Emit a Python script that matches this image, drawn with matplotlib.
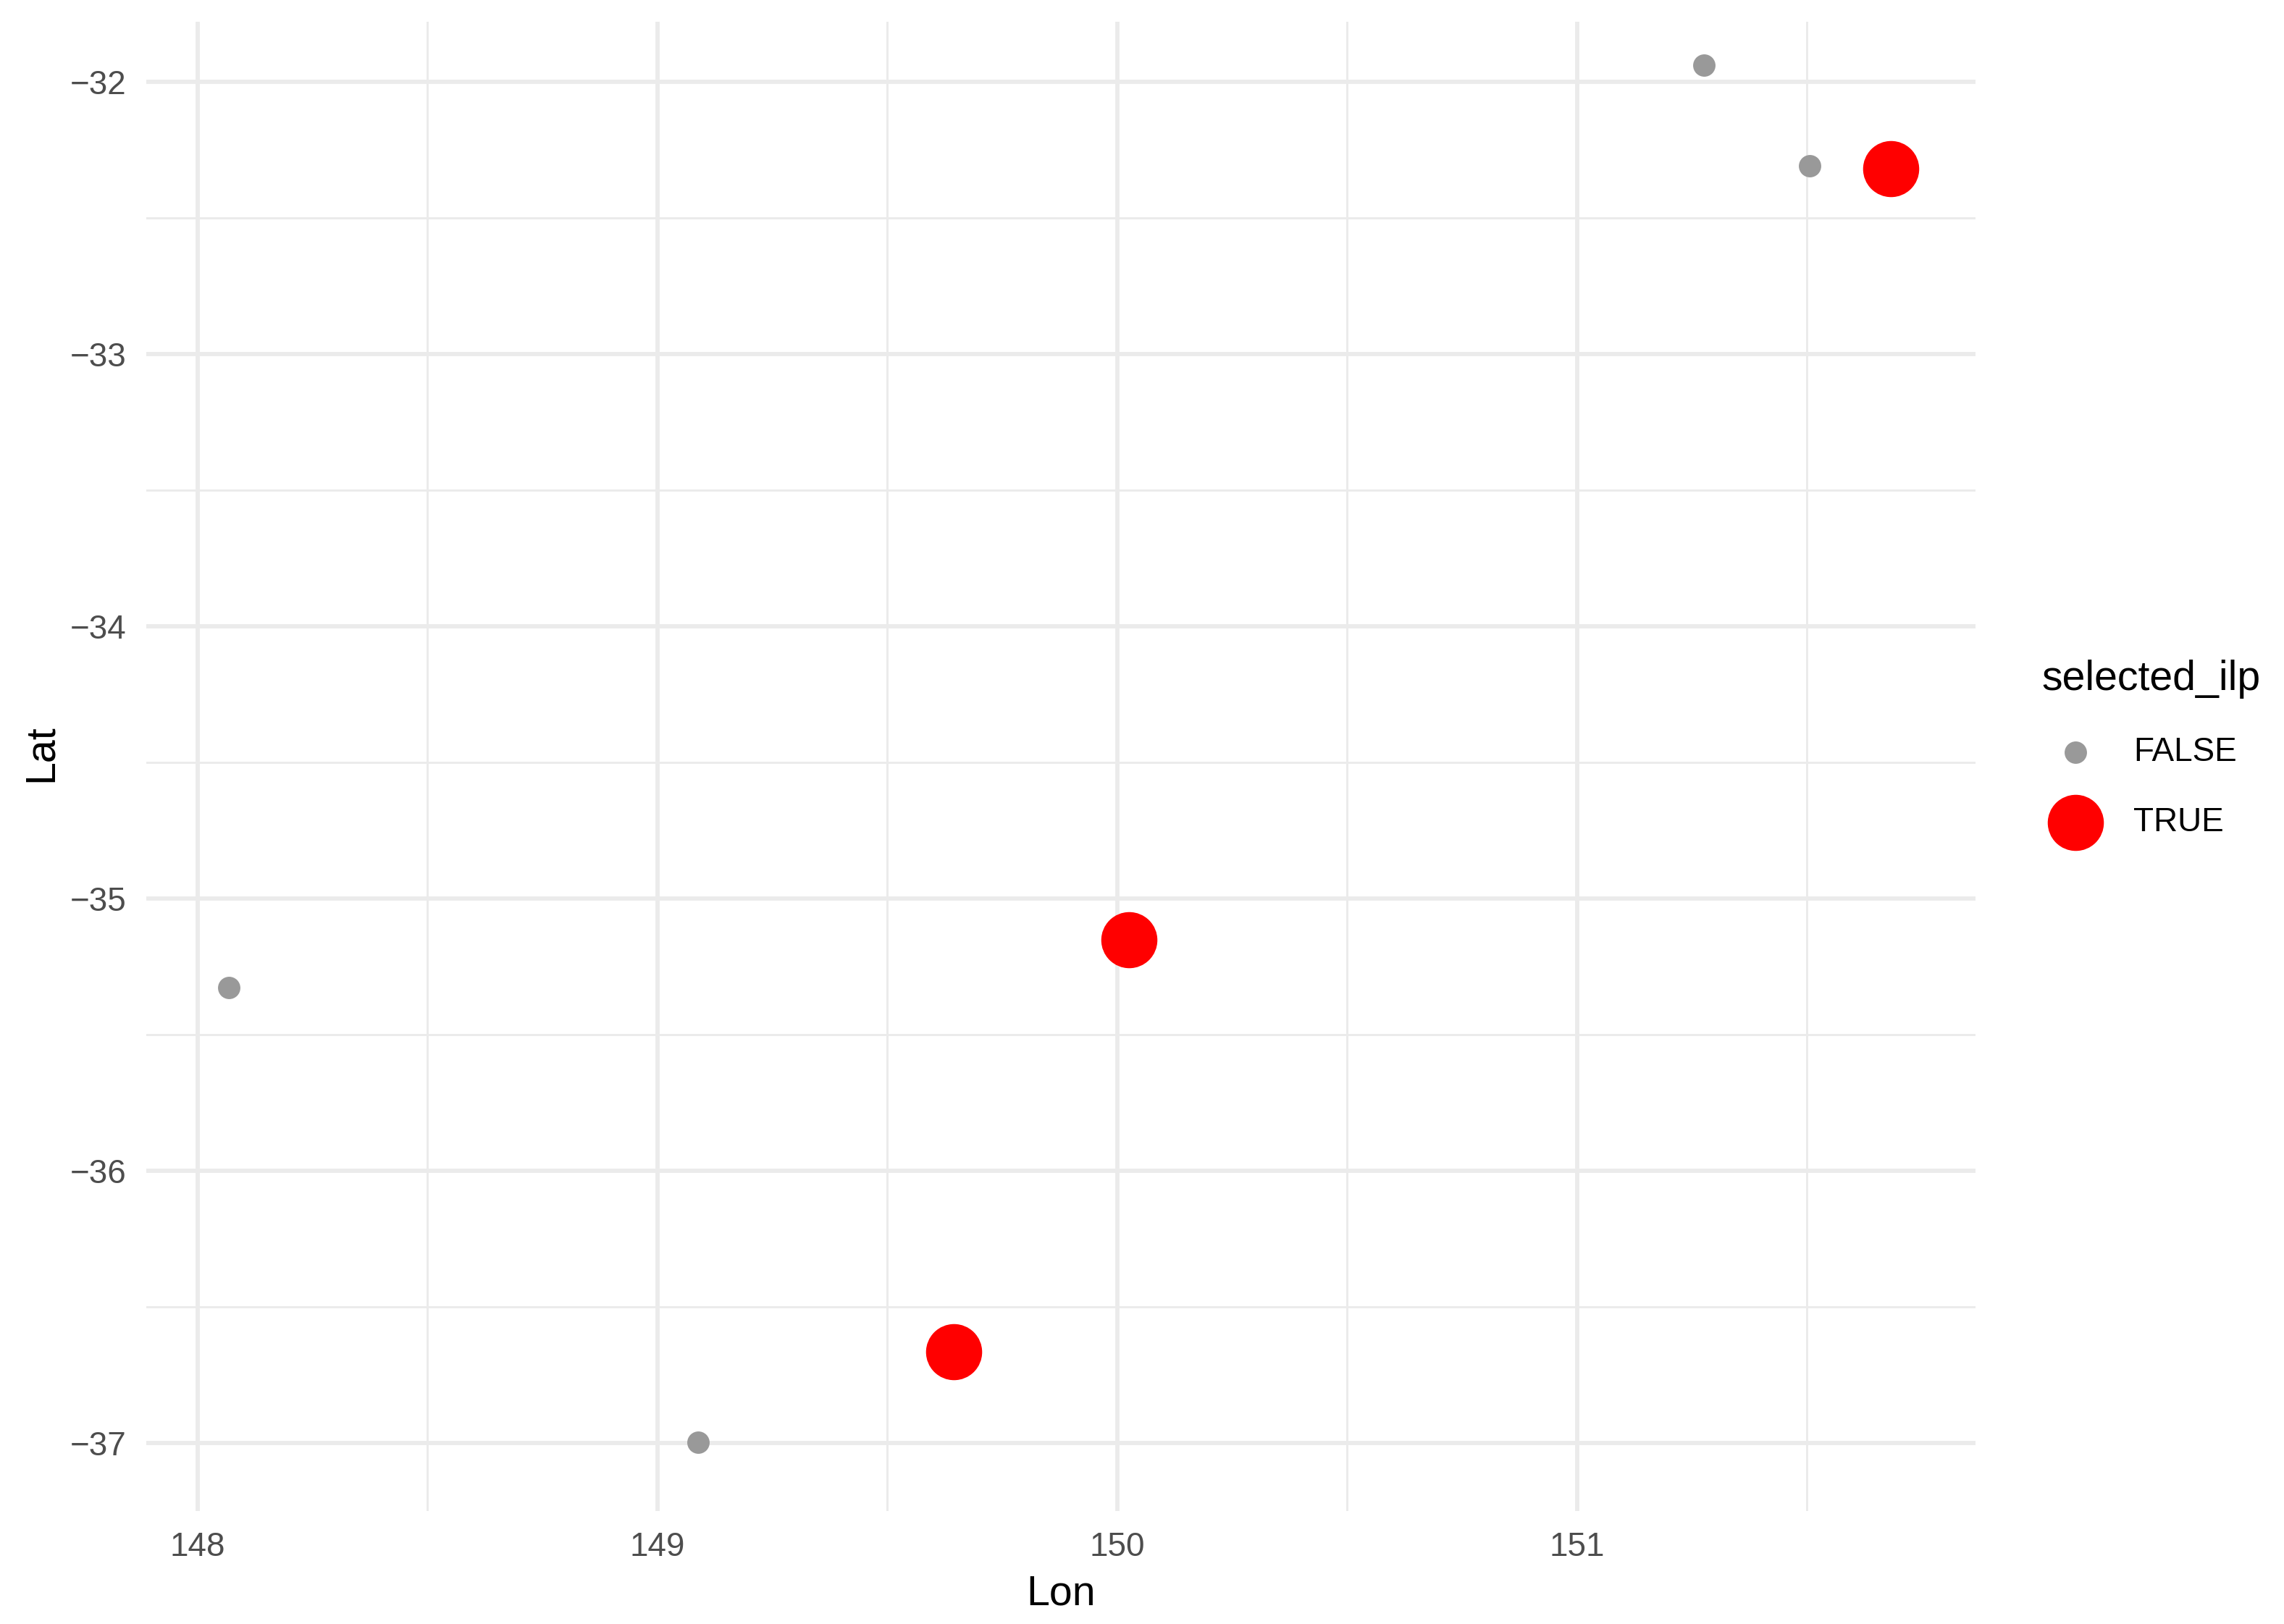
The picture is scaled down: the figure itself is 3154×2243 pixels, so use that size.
import numpy as np
import matplotlib
matplotlib.use("Agg")
import matplotlib.pyplot as plt

plt.rcParams['font.family'] = ['Liberation Sans', 'DejaVu Sans']

# station positions
lon = [148.068, 149.088, 149.645, 150.026, 151.277, 151.506, 151.683]
lat = [-35.327, -36.997, -36.665, -35.151, -31.939, -32.309, -32.318]
selected_ilp = [False, False, True, True, False, False, True]

groups = ['FALSE', 'TRUE']
group_colors = {'FALSE': '#999999', 'TRUE': '#FF0000'}
group_sizes = {'FALSE': 55, 'TRUE': 346}

xticks = [148, 149, 150, 151]
yticks = [-37, -36, -35, -34, -33, -32]

W, H = 3154, 2243
fig = plt.figure(figsize=(W / 300, H / 300), dpi=300)
ax = fig.add_axes([201.7 / W, 1 - 2087 / H, (2728 - 201.7) / W, (2087 - 30) / H])

lon = np.array(lon)
lat = np.array(lat)
sel = np.array(selected_ilp)

handles = []
for g in groups:
    m = sel == (g == 'TRUE')
    h = ax.scatter(lon[m], lat[m], s=group_sizes[g], c=group_colors[g],
                   linewidths=0, zorder=3, label=g)
    handles.append(h)

ax.set_xlim(147.888, 151.867)
ax.set_ylim(-37.251, -31.779)
ax.set_xticks(xticks)
ax.set_yticks(yticks)
ax.set_xticks([148.5, 149.5, 150.5, 151.5], minor=True)
ax.set_yticks([-36.5, -35.5, -34.5, -33.5, -32.5], minor=True)
ax.set_xticklabels([str(t) for t in xticks])
ax.set_yticklabels(['\u2212' + str(abs(t)) for t in yticks])

ax.grid(which='major', color='#EBEBEB', linewidth=1.4, zorder=0)
ax.grid(which='minor', color='#EBEBEB', linewidth=0.7, zorder=0)
ax.set_axisbelow(True)
for s in ax.spines.values():
    s.set_visible(False)
ax.tick_params(which='both', length=0)
ax.tick_params(axis='x', labelsize=11, labelcolor='#4D4D4D', pad=6.7)
ax.tick_params(axis='y', labelsize=11, labelcolor='#4D4D4D', pad=6.5)

fig.text(0.5 * (201.7 + 2728) / W, 1 - 2216.7 / H, 'Lon', fontsize=13.75,
         ha='center', va='baseline')
fig.text(72 / W, 1 - 1040 / H, 'Lat', fontsize=13.75, rotation=90,
         rotation_mode='anchor', ha='center', va='baseline')

leg = fig.legend(handles=handles, labels=groups, title='selected_ilp',
                 loc='upper left', bbox_to_anchor=(2819.3 / W, 1 - 910.7 / H),
                 frameon=False, fontsize=11, title_fontsize=13.75,
                 alignment='left', borderpad=0, borderaxespad=0,
                 handlelength=2.02, handletextpad=0.74, labelspacing=1.15,
                 scatterpoints=1)

fig.savefig('out.png', dpi=300, facecolor='white')
